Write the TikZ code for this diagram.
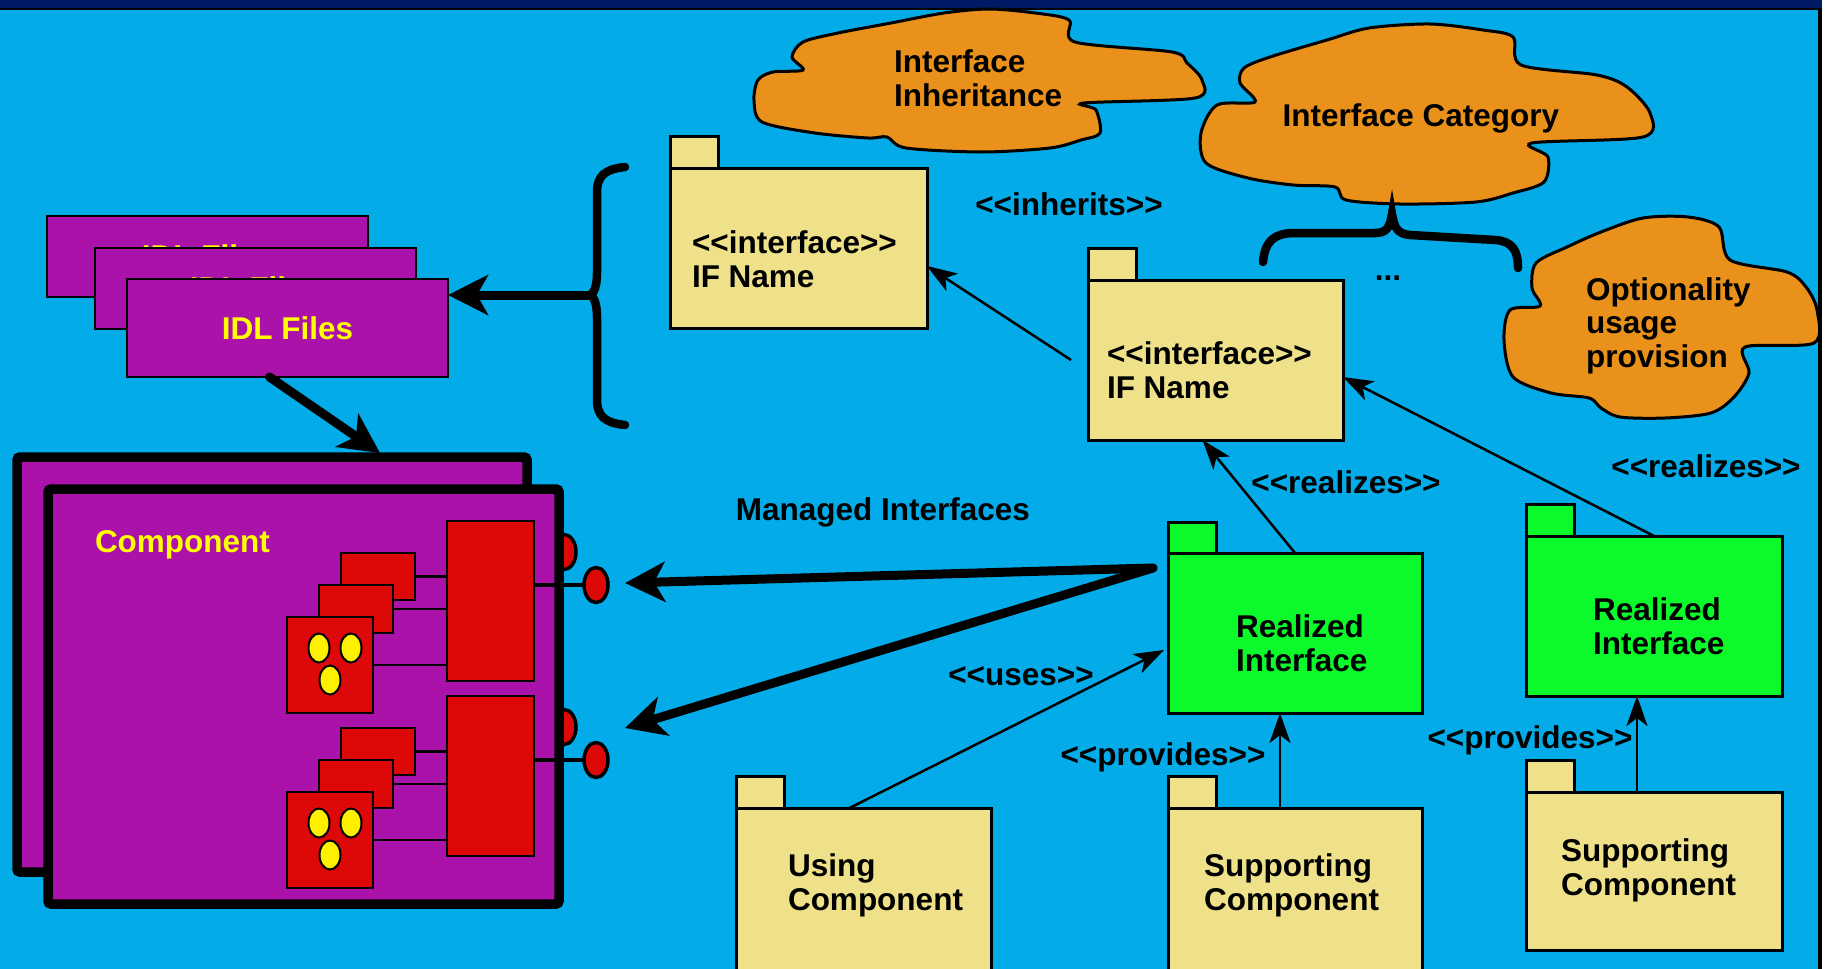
\documentclass[tikz,border=0pt]{standalone}
\usepackage{fontspec}
\setmainfont{Liberation Sans}
\usetikzlibrary{arrows.meta,shapes.geometric}

\definecolor{skyback}{RGB}{3,171,233}
\definecolor{navyband}{RGB}{0,26,102}
\definecolor{plum}{RGB}{170,18,170}
\definecolor{portred}{RGB}{221,8,8}
\definecolor{eyeyellow}{RGB}{255,240,0}
\definecolor{labelyellow}{RGB}{255,255,0}
\definecolor{khaki}{RGB}{239,225,138}
\definecolor{realgreen}{RGB}{12,250,44}
\definecolor{cloudorange}{RGB}{233,145,26}

\newcommand{\stereo}[1]{<\kern0pt<#1>\kern0pt>}

\tikzstyle{lbl}=[font=\bfseries\fontsize{31.5}{33.5}\selectfont, inner sep=0, outer sep=0, align=left]
\tikzstyle{pkg}=[draw, line width=3, inner sep=0, outer sep=0, anchor=north west]
\tikzstyle{pkgtab}=[pkg, anchor=south west, minimum width=48, minimum height=32]
\tikzstyle{idl}=[draw, line width=2.5, fill=plum, minimum width=321, inner sep=0, outer sep=0, anchor=north west, text=labelyellow, font=\bfseries\fontsize{31.5}{33.5}\selectfont]
\tikzstyle{frame}=[draw, line width=9.5, fill=plum, rounded corners=3, inner sep=0, outer sep=0, anchor=north west]
\tikzstyle{redbox}=[draw, line width=2.5, fill=portred, inner sep=0, outer sep=0, anchor=north west]
\tikzstyle{eye}=[ellipse, draw, line width=2, fill=eyeyellow, minimum width=21, minimum height=29, inner sep=0]
\tikzstyle{lolly}=[ellipse, draw, line width=3.5, fill=portred, minimum width=24, minimum height=35, inner sep=0, outer sep=0]
\tikzstyle{cloudy}=[draw, line width=3, fill=cloudorange]
\tikzstyle{brace}=[line width=8.5, line cap=round]
\tikzstyle{fat}=[line width=9, line cap=round, -{Stealth[length=40pt,width=40pt,inset=11pt]}]
\tikzstyle{dep}=[line width=2.5, -{Stealth[length=30pt,width=21pt,inset=8pt]}]

\begin{document}
\begin{tikzpicture}[x=1pt,y=-1pt]
    \useasboundingbox (0,0) rectangle (1831,969);
    \clip (0,0) rectangle (1831,969);

    % background and slide border
    \fill[white] (0,0) rectangle (1831,969);
    \fill[skyback] (0,0) rectangle (1822,969);
    \fill[navyband] (0,0) rectangle (1822,8);
    \fill[black] (0,8) rectangle (1822,10);
    \fill[black] (1818,8) rectangle (1822,969);

    % clouds
    \draw[cloudy] plot[smooth cycle, tension=0.5] coordinates {(891,23) (944,13) (989,9) (1035,13) (1069,20) (1075,42) (1172,52) (1187,63) (1202,80) (1195,98) (1084,103) (1096,110) (1100,133) (1081,140) (1050,148) (982,152) (906,148) (887,137) (868,138) (815,133) (762,122) (754,100) (758,80) (773,72) (803,70) (792,57) (803,42) (838,33)};
    \node[lbl, anchor=base west] (inhTxt) at (894,106) {Interface\\Inheritance};

    \draw[cloudy] plot[smooth cycle, tension=0.5] coordinates {(1327,40) (1369,28) (1430,24) (1483,30) (1513,37) (1521,65) (1597,75) (1627,87) (1650,113) (1643,137) (1532,143) (1548,157) (1544,182) (1513,193) (1476,202) (1400,204) (1346,200) (1335,187) (1293,185) (1248,178) (1206,163) (1201,133) (1217,105) (1255,102) (1240,83) (1244,68) (1270,57)};
    \node[lbl, anchor=base] (catTxt) at (1421,126) {Interface Category};

    \draw[cloudy] plot[smooth cycle, tension=0.5] coordinates {(1601,232) (1643,218) (1688,217) (1719,227) (1730,260) (1787,272) (1806,287) (1817,310) (1814,343) (1745,347) (1749,373) (1734,397) (1711,413) (1665,418) (1620,417) (1601,408) (1589,398) (1551,393) (1513,377) (1504,340) (1510,310) (1540,306) (1532,288) (1536,263) (1567,247)};
    \node[lbl, anchor=base west] (optTxt) at (1586,367) {Optionality\\usage\\provision};

    % braces
    \coordinate (braceTip) at (590,295);
    \draw[brace] (625,167) .. controls (605,169) and (597,176) .. (597,192) -- (597,272) .. controls (597,287) and (594,293) .. (braceTip) .. controls (594,297) and (597,303) .. (597,318) -- (597,400) .. controls (597,416) and (605,423) .. (625,425);
    \coordinate (catTip) at (1392,214);
    \draw[brace] (1263,262) .. controls (1265,240) and (1275,234) .. (1292,233) -- (1375,233) .. controls (1386,233) and (1390,228) .. (catTip) .. controls (1394,228) and (1398,234) .. (1410,235) -- (1495,240) .. controls (1512,241) and (1518,250) .. (1518,268);
    \node[lbl, anchor=base] (dots) at (1388,280) {...};

    % IDL files
    \node[idl, minimum height=81] (idlA) at (47,216) {IDL Files};
    \node[idl, minimum height=81] (idlB) at (95,248) {IDL Files};
    \node[idl, minimum height=98] (idlC) at (127,279) {IDL Files};

    % component
    \node[frame, minimum width=510, minimum height=415] (compBack) at (17,457) {};
    \foreach \g/\dy in {A/0,B/175}{
        \node[lolly] (halfLol\g) at (564,552+\dy) {};
    }
    \node[frame, minimum width=511, minimum height=415] (compFront) at (48,489) {};
    \node[lbl, text=labelyellow, anchor=base west] (compTxt) at (95,552) {Component};

    \foreach \g/\dy in {A/0,B/175}{
        \node[redbox, minimum width=87, minimum height=160] (big\g) at (447,521+\dy) {};
        \node[redbox, minimum width=74, minimum height=47] (smA\g) at (341,553+\dy) {};
        \node[redbox, minimum width=74, minimum height=48] (smB\g) at (319,585+\dy) {};
        \node[redbox, minimum width=86, minimum height=96] (smC\g) at (287,617+\dy) {};
        \node[eye] (eyeL\g) at (319,648+\dy) {};
        \node[eye] (eyeR\g) at (351,648+\dy) {};
        \node[eye] (eyeM\g) at (330,680+\dy) {};
        \draw[line width=2.5] (smA\g.east) -- (smA\g.east -| big\g.west);
        \draw[line width=2.5] (smB\g.east) -- (smB\g.east -| big\g.west);
        \draw[line width=2.5] (smC\g.east) -- (smC\g.east -| big\g.west);
        \node[lolly] (lol\g) at (596,585+\dy) {};
        \draw[line width=3.5] (big\g.east |- lol\g) -- (lol\g);
    }

    \draw[fat] (braceTip) -- (braceTip -| idlC.east);
    \draw[fat] ([xshift=-18pt]idlC.south) -- ([xshift=108pt,yshift=4pt]compBack.north);

    % interface packages
    \node[pkg, fill=khaki, minimum width=257, minimum height=160] (ifA) at (670,168) {};
    \node[pkgtab, fill=khaki] (ifAtab) at (ifA.north west) {};
    \node[lbl, anchor=base west] (ifAtxt) at (692,287) {\stereo{interface}\\IF Name};

    \node[pkg, fill=khaki, minimum width=255, minimum height=160] (ifB) at (1088,280) {};
    \node[pkgtab, fill=khaki] (ifBtab) at (ifB.north west) {};
    \node[lbl, anchor=base west] (ifBtxt) at (1107,398) {\stereo{interface}\\IF Name};

    \node[pkg, fill=realgreen, minimum width=254, minimum height=160] (realA) at (1168,553) {};
    \node[pkgtab, fill=realgreen, minimum height=31] (realAtab) at (realA.north west) {};
    \node[lbl, anchor=base west] (realAtxt) at (1236,671) {Realized\\Interface};

    \node[pkg, fill=realgreen, minimum width=256, minimum height=160] (realB) at (1526,536) {};
    \node[pkgtab, fill=realgreen] (realBtab) at (realB.north west) {};
    \node[lbl, anchor=base west] (realBtxt) at (1593,654) {Realized\\Interface};

    \node[pkg, fill=khaki, minimum width=255, minimum height=180] (usingC) at (736,808) {};
    \node[pkgtab, fill=khaki] (usingCtab) at (usingC.north west) {};
    \node[lbl, anchor=base west] (usingTxt) at (788,910) {Using\\Component};

    \node[pkg, fill=khaki, minimum width=254, minimum height=180] (supA) at (1168,808) {};
    \node[pkgtab, fill=khaki] (supAtab) at (supA.north west) {};
    \node[lbl, anchor=base west] (supAtxt) at (1204,910) {Supporting\\Component};

    \node[pkg, fill=khaki, minimum width=256, minimum height=158] (supB) at (1526,792) {};
    \node[pkgtab, fill=khaki] (supBtab) at (supB.north west) {};
    \node[lbl, anchor=base west] (supBtxt) at (1561,895) {Supporting\\Component};

    % dependencies
    \draw[dep] ([xshift=-17pt]ifB.west) -- ([yshift=-18pt]ifA.east);
    \draw[dep] (realA.north) -- ([xshift=-13pt]ifB.south);
    \draw[dep] (realB.north) -- ([yshift=-17pt]ifB.east);
    \draw[dep] ([xshift=-14pt]usingC.north) -- ([xshift=-4pt,yshift=-17pt]realA.west);
    \draw[dep] ([xshift=-15pt]supA.north) -- ([xshift=-15pt]realA.south);
    \draw[dep] ([xshift=-17pt]supB.north) -- ([xshift=-17pt]realB.south);

    \node[lbl, anchor=base] (inheritsTxt) at (1069,215) {\stereo{inherits}};
    \node[lbl, anchor=base] (realizesA) at (1346,493) {\stereo{realizes}};
    \node[lbl, anchor=base] (realizesB) at (1706,477) {\stereo{realizes}};
    \node[lbl, anchor=base] (usesTxt) at (1021,685) {\stereo{uses}};
    \node[lbl, anchor=base] (providesA) at (1163,765) {\stereo{provides}};
    \node[lbl, anchor=base] (providesB) at (1530,748) {\stereo{provides}};

    % managed interfaces
    \node[lbl, anchor=base] (managedTxt) at (883,520) {Managed Interfaces};
    \coordinate (mgdSrc) at ([xshift=-15pt,yshift=-15pt]realA.north west);
    \coordinate (mgdA) at (625,583);
    \coordinate (mgdB) at (625,728);
    \draw[fat] (mgdSrc) -- (mgdA);
    \draw[fat] (mgdSrc) -- (mgdB);
\end{tikzpicture}
\end{document}
